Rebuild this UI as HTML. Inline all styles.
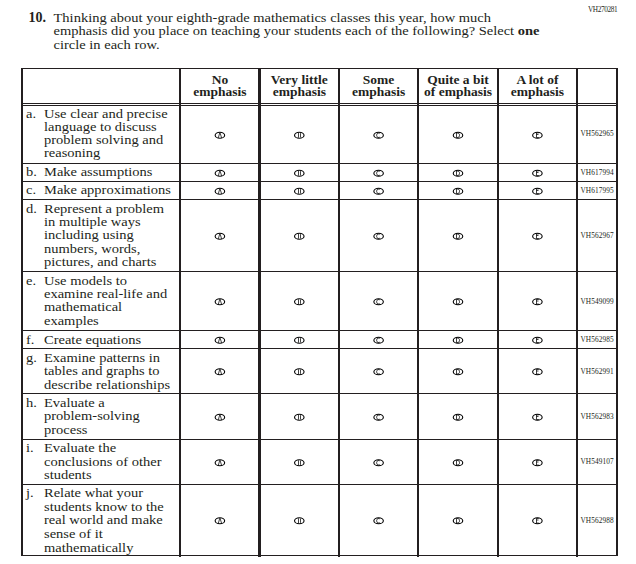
<!DOCTYPE html>
<html><head><meta charset="utf-8"><style>
html,body{margin:0;padding:0;background:#fff;width:636px;height:564px;overflow:hidden;}
body{position:relative;font-family:"Liberation Serif",serif;color:#231f20;}
div{position:absolute;white-space:nowrap;}
.h{height:1px;background:#231f20;}
.v{background:#231f20;}
.t{font-size:14.5px;line-height:20px;transform:scaleY(0.93);transform-origin:0 15px;}
.hd{font-weight:bold;font-size:13.5px;line-height:20px;text-align:center;width:100px;}
.code{font-size:7.3px;line-height:20px;letter-spacing:0.1px;}
svg.o{position:absolute;overflow:visible;}
</style></head><body>

<div class="t" style="left:28.5px;top:8px;font-weight:bold;font-size:14px;transform:none;">10.</div>
<div class="t" style="left:53.5px;top:7px;">Thinking about your eighth-grade mathematics classes this year, how much</div>
<div class="t" style="left:53.5px;top:20px;">emphasis did you place on teaching your students each of the following? Select <b>one</b></div>
<div class="t" style="left:53.5px;top:34px;">circle in each row.</div>
<div class="code" style="left:588px;top:0px;letter-spacing:-0.4px;">VH270281</div>
<div class="h" style="left:21px;top:68px;width:597px;"></div>
<div class="h" style="left:21px;top:103px;width:597px;"></div>
<div class="h" style="left:21px;top:105px;width:597px;"></div>
<div class="h" style="left:21px;top:163px;width:597px;"></div>
<div class="h" style="left:21px;top:181px;width:597px;"></div>
<div class="h" style="left:21px;top:199px;width:597px;"></div>
<div class="h" style="left:21px;top:271px;width:597px;"></div>
<div class="h" style="left:21px;top:330px;width:597px;"></div>
<div class="h" style="left:21px;top:348px;width:597px;"></div>
<div class="h" style="left:21px;top:393px;width:597px;"></div>
<div class="h" style="left:21px;top:439px;width:597px;"></div>
<div class="h" style="left:21px;top:484px;width:597px;"></div>
<div class="h" style="left:21px;top:555px;width:597px;"></div>
<div class="v" style="left:21px;top:68px;width:2px;height:488px;"></div>
<div class="v" style="left:616px;top:68px;width:2px;height:488px;"></div>
<div class="v" style="left:179px;top:68px;width:2px;height:489px;"></div>
<div class="v" style="left:258px;top:68px;width:3px;height:489px;"></div>
<div class="v" style="left:338px;top:68px;width:2px;height:489px;"></div>
<div class="v" style="left:417px;top:68px;width:2px;height:489px;"></div>
<div class="v" style="left:497px;top:68px;width:2px;height:489px;"></div>
<div class="v" style="left:576px;top:68px;width:2px;height:489px;"></div>
<div class="hd" style="left:169.9px;top:70px;">No</div>
<div class="hd" style="left:169.9px;top:82px;">emphasis</div>
<div class="hd" style="left:249.3px;top:70px;">Very little</div>
<div class="hd" style="left:249.3px;top:82px;">emphasis</div>
<div class="hd" style="left:328.6px;top:70px;">Some</div>
<div class="hd" style="left:328.6px;top:82px;">emphasis</div>
<div class="hd" style="left:408.0px;top:70px;">Quite a bit</div>
<div class="hd" style="left:408.0px;top:82px;">of emphasis</div>
<div class="hd" style="left:487.4px;top:70px;">A lot of</div>
<div class="hd" style="left:487.4px;top:82px;">emphasis</div>
<div class="t" style="left:26px;top:103px;">a.</div>
<div class="t" style="left:44px;top:103px;">Use clear and precise</div>
<div class="t" style="left:44px;top:116px;">language to discuss</div>
<div class="t" style="left:44px;top:129px;">problem solving and</div>
<div class="t" style="left:44px;top:142px;">reasoning</div>
<div class="code" style="left:580.5px;top:124px;">VH562965</div>
<div class="t" style="left:26px;top:161px;">b.</div>
<div class="t" style="left:44px;top:161px;">Make assumptions</div>
<div class="code" style="left:580.5px;top:163px;">VH617994</div>
<div class="t" style="left:26px;top:179px;">c.</div>
<div class="t" style="left:44px;top:179px;">Make approximations</div>
<div class="code" style="left:580.5px;top:181px;">VH617995</div>
<div class="t" style="left:26px;top:198px;">d.</div>
<div class="t" style="left:44px;top:198px;">Represent a problem</div>
<div class="t" style="left:44px;top:211px;">in multiple ways</div>
<div class="t" style="left:44px;top:224px;">including using</div>
<div class="t" style="left:44px;top:238px;">numbers, words,</div>
<div class="t" style="left:44px;top:251px;">pictures, and charts</div>
<div class="code" style="left:580.5px;top:226px;">VH562967</div>
<div class="t" style="left:26px;top:270px;">e.</div>
<div class="t" style="left:44px;top:270px;">Use models to</div>
<div class="t" style="left:44px;top:283px;">examine real-life and</div>
<div class="t" style="left:44px;top:296px;">mathematical</div>
<div class="t" style="left:44px;top:310px;">examples</div>
<div class="code" style="left:580.5px;top:292px;">VH549099</div>
<div class="t" style="left:26px;top:329px;">f.</div>
<div class="t" style="left:44px;top:329px;">Create equations</div>
<div class="code" style="left:580.5px;top:330px;">VH562985</div>
<div class="t" style="left:26px;top:347px;">g.</div>
<div class="t" style="left:44px;top:347px;">Examine patterns in</div>
<div class="t" style="left:44px;top:360px;">tables and graphs to</div>
<div class="t" style="left:44px;top:374px;">describe relationships</div>
<div class="code" style="left:580.5px;top:362px;">VH562991</div>
<div class="t" style="left:26px;top:392px;">h.</div>
<div class="t" style="left:44px;top:392px;">Evaluate a</div>
<div class="t" style="left:44px;top:405px;">problem-solving</div>
<div class="t" style="left:44px;top:419px;">process</div>
<div class="code" style="left:580.5px;top:407px;">VH562983</div>
<div class="t" style="left:26px;top:437px;">i.</div>
<div class="t" style="left:44px;top:437px;">Evaluate the</div>
<div class="t" style="left:44px;top:451px;">conclusions of other</div>
<div class="t" style="left:44px;top:464px;">students</div>
<div class="code" style="left:580.5px;top:452px;">VH549107</div>
<div class="t" style="left:26px;top:482px;">j.</div>
<div class="t" style="left:44px;top:482px;">Relate what your</div>
<div class="t" style="left:44px;top:496px;">students know to the</div>
<div class="t" style="left:44px;top:509px;">real world and make</div>
<div class="t" style="left:44px;top:523px;">sense of it</div>
<div class="t" style="left:44px;top:537px;">mathematically</div>
<div class="code" style="left:580.5px;top:511px;">VH562988</div>
<svg style="position:absolute;left:0;top:0" width="636" height="564" viewBox="0 0 636 564"><defs>
<g id="O"><ellipse cx="0" cy="0" rx="4.75" ry="3.05" fill="none" stroke="#000" stroke-width="1.1"/></g>
<g id="A"><use href="#O"/><path d="M-1.6,2.6 L-0.1,-2.6 M0.1,-2.6 L1.7,2.6" fill="none" stroke="#000" stroke-width="0.75"/></g>
<g id="B"><use href="#O"/><path d="M-0.8,-2.4 V2.4 M1.2,-2.1 V2.1" fill="none" stroke="#000" stroke-width="0.75"/></g>
<g id="C"><use href="#O"/><path d="M1.2,-1.9 C0.5,-2.5 -2.0,-2.6 -2.0,0 C-2.0,2.6 0.5,2.6 1.2,1.9" fill="none" stroke="#000" stroke-width="0.75"/></g>
<g id="D"><use href="#O"/><path d="M-1.5,-2.4 V2.4 M-1.4,-2.3 C1.1,-2.3 1.5,-1.5 1.5,0 C1.5,1.5 1.1,2.3 -1.4,2.3" fill="none" stroke="#000" stroke-width="0.75"/></g>
<g id="E"><use href="#O"/><path d="M-0.9,-2.4 V2.4 M-0.9,-2.3 H1.3 M-0.9,-0.75 H1.1 M-0.9,2.3 H1.4" fill="none" stroke="#000" stroke-width="0.75"/></g>
</defs><use href="#A" x="219.90" y="135.25"/><use href="#B" x="299.30" y="135.25"/><use href="#C" x="378.60" y="135.25"/><use href="#D" x="458.00" y="135.25"/><use href="#E" x="537.40" y="135.25"/><use href="#A" x="219.90" y="173.25"/><use href="#B" x="299.30" y="173.25"/><use href="#C" x="378.60" y="173.25"/><use href="#D" x="458.00" y="173.25"/><use href="#E" x="537.40" y="173.25"/><use href="#A" x="219.90" y="191.25"/><use href="#B" x="299.30" y="191.25"/><use href="#C" x="378.60" y="191.25"/><use href="#D" x="458.00" y="191.25"/><use href="#E" x="537.40" y="191.25"/><use href="#A" x="219.90" y="236.25"/><use href="#B" x="299.30" y="236.25"/><use href="#C" x="378.60" y="236.25"/><use href="#D" x="458.00" y="236.25"/><use href="#E" x="537.40" y="236.25"/><use href="#A" x="219.90" y="301.75"/><use href="#B" x="299.30" y="301.75"/><use href="#C" x="378.60" y="301.75"/><use href="#D" x="458.00" y="301.75"/><use href="#E" x="537.40" y="301.75"/><use href="#A" x="219.90" y="340.25"/><use href="#B" x="299.30" y="340.25"/><use href="#C" x="378.60" y="340.25"/><use href="#D" x="458.00" y="340.25"/><use href="#E" x="537.40" y="340.25"/><use href="#A" x="219.90" y="371.75"/><use href="#B" x="299.30" y="371.75"/><use href="#C" x="378.60" y="371.75"/><use href="#D" x="458.00" y="371.75"/><use href="#E" x="537.40" y="371.75"/><use href="#A" x="219.90" y="417.25"/><use href="#B" x="299.30" y="417.25"/><use href="#C" x="378.60" y="417.25"/><use href="#D" x="458.00" y="417.25"/><use href="#E" x="537.40" y="417.25"/><use href="#A" x="219.90" y="462.75"/><use href="#B" x="299.30" y="462.75"/><use href="#C" x="378.60" y="462.75"/><use href="#D" x="458.00" y="462.75"/><use href="#E" x="537.40" y="462.75"/><use href="#A" x="219.90" y="520.75"/><use href="#B" x="299.30" y="520.75"/><use href="#C" x="378.60" y="520.75"/><use href="#D" x="458.00" y="520.75"/><use href="#E" x="537.40" y="520.75"/></svg>
</body></html>
